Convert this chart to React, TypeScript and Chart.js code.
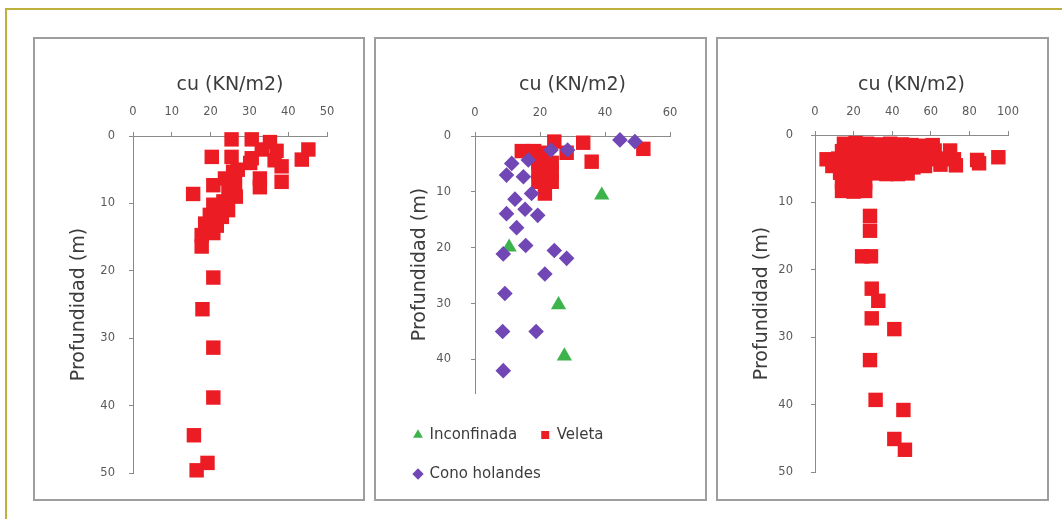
import React, { useEffect, useRef } from 'react';
import { Chart, registerables } from 'chart.js';

Chart.register(...registerables);

const FONT = "'DejaVu Sans', sans-serif";
const X_TITLE = 'cu (KN/m2)';
const Y_TITLE = 'Profundidad (m)';

const RED = '#ec1c24';
const PURPLE = '#7047b4';
const GREEN = '#3cb44b';
const AXIS = '#8a8a8a';
const TICK_TEXT = '#5a5a5a';
const TITLE_TEXT = '#3c3c3c';

// ---------- Panel 1 (Veleta) ----------
const p1Cu = [25.4, 30.6, 35.3, 33.2, 37.0, 45.2, 43.5, 20.3, 25.4, 30.6, 36.5, 38.3, 30.2, 25.8, 27.0, 38.3, 32.7, 32.7, 23.7, 26.3, 20.7, 15.5, 24.6, 26.5, 23.3, 20.7, 22.0, 24.5, 19.8, 22.9, 18.6, 21.6, 17.7, 20.7, 17.7, 20.7, 17.9, 20.7, 20.7, 15.7, 19.2, 16.4];
const p1Depth = [0.5, 0.5, 0.9, 2.0, 2.2, 2.0, 3.5, 3.1, 3.1, 3.3, 3.6, 4.5, 4.0, 5.3, 5.0, 6.8, 6.3, 7.6, 6.3, 7.0, 7.3, 8.6, 8.3, 9.0, 9.7, 10.2, 10.8, 11.0, 11.7, 12.0, 13.0, 13.3, 14.7, 14.4, 16.4, 21.0, 25.7, 31.4, 38.8, 44.4, 48.5, 49.6];
const p1XMax = 50;
const p1XStep = 10;
const p1YMax = 50;

// ---------- Panel 2 ----------
const incCu = [39.0, 10.5, 25.7, 27.5];
const incDepth = [10.6, 19.9, 30.2, 39.4];
const velCu = [24.4, 33.3, 51.8, 14.4, 18.2, 21.5, 28.2, 35.9, 19.5, 23.6, 19.5, 23.6, 19.5, 23.6, 21.5];
const velDepth = [1.0, 1.2, 2.3, 2.7, 2.7, 3.0, 3.0, 4.6, 4.8, 4.8, 6.4, 6.4, 8.2, 8.2, 10.3];
const coneCu = [44.6, 49.2, 23.4, 28.5, 16.4, 11.3, 9.7, 14.9, 17.4, 12.3, 15.4, 19.3, 9.7, 12.8, 15.6, 8.7, 24.4, 28.2, 21.5, 9.2, 8.5, 18.8, 8.7];
const coneDepth = [0.7, 1.0, 2.5, 2.5, 4.3, 4.9, 7.0, 7.3, 10.3, 11.3, 13.1, 14.2, 13.9, 16.4, 19.6, 21.1, 20.5, 21.9, 24.7, 28.2, 35.0, 35.0, 42.0];
const p2Labels = ['Inconfinada', 'Veleta', 'Cono holandes'];
const p2XMax = 60;
const p2XStep = 20;
const p2YMax = 46;

// ---------- Panel 3 (Veleta) ----------
const p3Cu = [
  15, 21, 27, 33, 39, 45, 50, 55, 61,
  14, 20, 26, 32, 38, 44, 50, 56, 62, 70,
  6, 12, 18, 24, 30, 36, 42, 48, 54, 60, 66, 72, 84, 95,
  9, 15, 21, 27, 33, 39, 45, 51, 57, 65, 73, 85,
  13, 19, 25, 31, 37, 43, 48,
  14, 20, 26,
  14, 20, 26,
  28.5, 28.5, 24.4, 29.0, 29.4, 32.8, 29.4, 41.1, 28.5, 31.4, 45.8, 41.1, 46.6,
];
const p3Depth = [
  1.3, 1.2, 1.3, 1.4, 1.3, 1.4, 1.5, 1.6, 1.5,
  2.4, 2.4, 2.5, 2.4, 2.5, 2.5, 2.4, 2.6, 2.3, 2.3,
  3.6, 3.5, 3.6, 3.6, 3.5, 3.6, 3.7, 3.6, 3.5, 3.6, 3.5, 3.6, 3.7, 3.3,
  4.6, 4.6, 4.7, 4.6, 4.6, 4.7, 4.6, 4.8, 4.6, 4.4, 4.5, 4.2,
  5.6, 5.7, 5.6, 5.7, 5.8, 5.8, 5.7,
  7.0, 7.0, 7.0,
  8.3, 8.4, 8.3,
  12.0, 14.2, 18.0, 18.0, 22.8, 24.6, 27.2, 28.8, 33.4, 39.3, 40.8, 45.1, 46.7,
];
const p3XMax = 100;
const p3XStep = 20;
const p3YMax = 50;

const Y_STEP = 10;

function pts(xs: number[], ys: number[]) {
  return xs.map((x, i) => ({ x, y: ys[i] }));
}

interface Spec {
  xMax: number;
  xStep: number;
  yMax: number;
  padLeft: number;
  padRight: number;
  padBottom: number;
  xAxisH: number;
  yAxisW: number;
  xTickPad: number;
  yTickPad: number;
  yTitlePad: number;
  bottomGap?: number;
}

function buildOptions(s: Spec, legend: boolean): any {
  const scales: any = {
    x: {
      type: 'linear',
      position: 'top',
      min: 0,
      max: s.xMax,
      ticks: { stepSize: s.xStep, font: { family: FONT, size: 11.5 }, color: TICK_TEXT, padding: s.xTickPad },
      grid: { drawOnChartArea: false, drawTicks: true, tickLength: 4, color: AXIS },
      border: { display: true, color: AXIS, width: 1 },
      title: {
        display: true,
        text: X_TITLE,
        font: { family: FONT, size: 19 },
        color: TITLE_TEXT,
        padding: { top: 36.6, bottom: 0 },
      },
      afterFit: (sc: any) => { sc.height = s.xAxisH; },
    },
    y: {
      type: 'linear',
      position: 'left',
      reverse: true,
      min: 0,
      max: s.yMax,
      ticks: { stepSize: Y_STEP, includeBounds: false, font: { family: FONT, size: 11.5 }, color: TICK_TEXT, padding: s.yTickPad },
      grid: { drawOnChartArea: false, drawTicks: true, tickLength: 4, color: AXIS },
      border: { display: true, color: AXIS, width: 1 },
      title: {
        display: true,
        text: Y_TITLE,
        font: { family: FONT, size: 19 },
        color: TITLE_TEXT,
        padding: { top: s.yTitlePad, bottom: 0 },
      },
      afterFit: (sc: any) => { sc.width = s.yAxisW; },
    },
  };
  if (s.bottomGap) {
    scales.xGap = {
      type: 'linear',
      position: 'bottom',
      display: true,
      ticks: { display: false },
      grid: { display: false },
      border: { display: false },
      afterFit: (sc: any) => { sc.height = s.bottomGap; },
    };
  }
  return {
    responsive: false,
    animation: false,
    events: [],
    layout: { padding: { left: s.padLeft, top: 0, right: s.padRight, bottom: s.padBottom } },
    plugins: {
      tooltip: { enabled: false },
      legend: legend
        ? {
            display: true,
            position: 'bottom',
            align: 'start',
            labels: {
              usePointStyle: true,
              boxWidth: 8,
              boxHeight: 8,
              padding: 24,
              font: { family: FONT, size: 15 },
              color: TITLE_TEXT,
              sort: (a: any, b: any) => a.datasetIndex - b.datasetIndex,
            },
          }
        : { display: false },
    },
    scales,
  };
}

const SQUARE_R = 10.2;

function squareSet(label: string, xs: number[], ys: number[], order = 0) {
  return {
    label,
    data: pts(xs, ys),
    pointStyle: 'rect',
    pointRadius: SQUARE_R,
    pointHoverRadius: SQUARE_R,
    pointBorderWidth: 0,
    backgroundColor: RED,
    borderColor: RED,
    borderWidth: 0,
    clip: false,
    order,
    xAxisID: 'x',
    yAxisID: 'y',
  };
}

const panel1Config = () => ({
  type: 'scatter',
  data: { datasets: [squareSet('Veleta', p1Cu, p1Depth)] },
  options: buildOptions(
    { xMax: p1XMax, xStep: p1XStep, yMax: p1YMax, padLeft: 13, padRight: 38, padBottom: 28, xAxisH: 99, yAxisW: 87, xTickPad: 13, yTickPad: 14, yTitlePad: 21.6 },
    false
  ),
});

const panel2Config = () => ({
  type: 'scatter',
  data: {
    datasets: [
      {
        label: p2Labels[0],
        data: pts(incCu, incDepth),
        pointStyle: 'triangle',
        pointRadius: 8.8,
        pointHoverRadius: 8.8,
        pointBorderWidth: 0,
        backgroundColor: GREEN,
        borderColor: GREEN,
        borderWidth: 0,
        clip: false,
        order: 3,
        xAxisID: 'x',
        yAxisID: 'y',
      },
      squareSet(p2Labels[1], velCu, velDepth, 2),
      {
        label: p2Labels[2],
        data: pts(coneCu, coneDepth),
        pointStyle: 'rectRot',
        pointRadius: 7.8,
        pointHoverRadius: 7.8,
        pointBorderWidth: 0,
        backgroundColor: PURPLE,
        borderColor: PURPLE,
        borderWidth: 0,
        clip: false,
        order: 1,
        xAxisID: 'x',
        yAxisID: 'y',
      },
    ],
  },
  options: buildOptions(
    { xMax: p2XMax, xStep: p2XStep, yMax: p2YMax, padLeft: 16, padRight: 37, padBottom: 9.5, xAxisH: 99, yAxisW: 85, xTickPad: 12, yTickPad: 20, yTitlePad: 18.6, bottomGap: 10.5 },
    true
  ),
});

const panel3Config = () => ({
  type: 'scatter',
  data: { datasets: [squareSet('Veleta', p3Cu, p3Depth)] },
  options: buildOptions(
    { xMax: p3XMax, xStep: p3XStep, yMax: p3YMax, padLeft: 13, padRight: 41, padBottom: 29, xAxisH: 98, yAxisW: 86, xTickPad: 12, yTickPad: 18, yTitlePad: 21.6 },
    false
  ),
});

function ChartPanel({ left, top, width, height, build }: { left: number; top: number; width: number; height: number; build: () => any }) {
  const ref = useRef<HTMLCanvasElement>(null);
  useEffect(() => {
    const chart = new Chart(ref.current as HTMLCanvasElement, build());
    return () => chart.destroy();
  }, []);
  return (
    <div style={{ position: 'absolute', left, top, width, height, background: '#fff' }}>
      <canvas ref={ref} width={width} height={height} style={{ position: 'absolute', left: 0, top: 0, width, height }} />
      <div
        style={{
          position: 'absolute',
          left: 0,
          top: 0,
          width,
          height,
          border: '2px solid #9e9e9e',
          boxSizing: 'border-box',
          pointerEvents: 'none',
        }}
      />
    </div>
  );
}

export default function App() {
  return (
    <div style={{ position: 'absolute', left: 0, top: 0, width: 1062, height: 519, overflow: 'hidden', background: '#fff' }}>
      <div
        style={{
          position: 'absolute',
          left: 5,
          top: 8,
          width: 1100,
          height: 560,
          borderTop: '2px solid #bdb13c',
          borderLeft: '2px solid #bdb13c',
          boxSizing: 'border-box',
        }}
      />
      <ChartPanel left={33} top={37} width={332} height={464} build={panel1Config} />
      <ChartPanel left={374} top={37} width={333} height={464} build={panel2Config} />
      <ChartPanel left={716} top={37} width={333} height={464} build={panel3Config} />
    </div>
  );
}
